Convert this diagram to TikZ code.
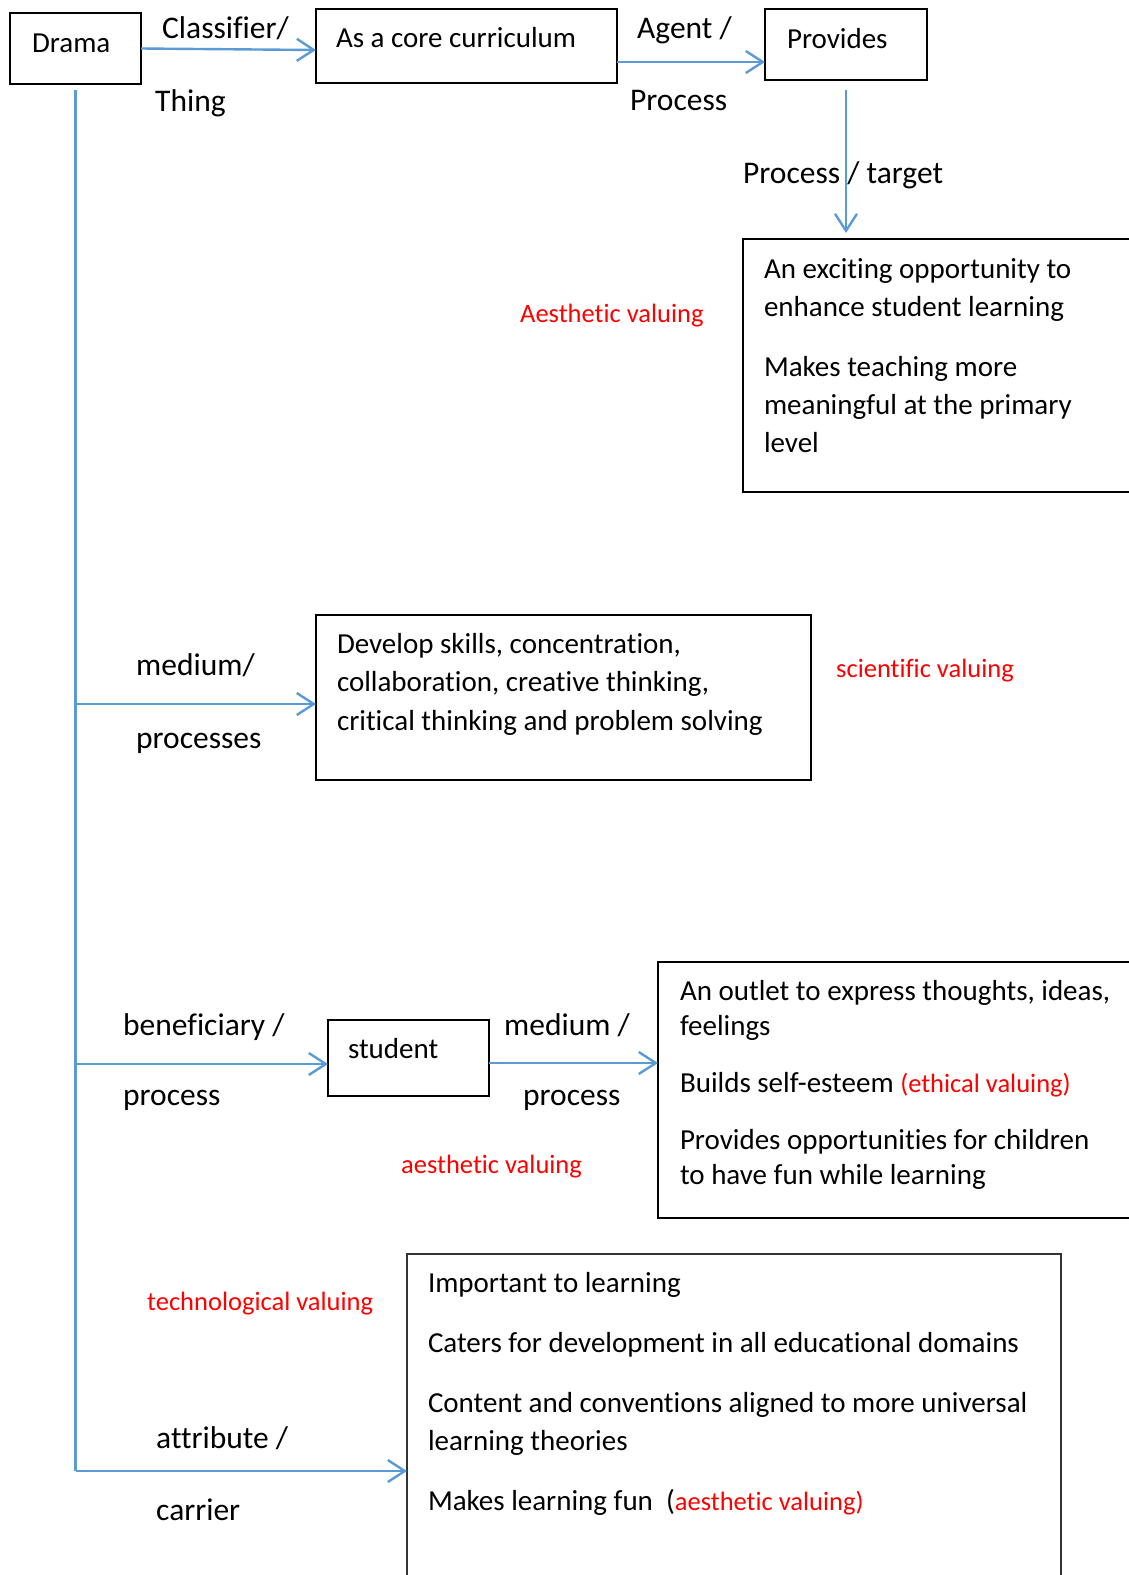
\documentclass[tikz,border=0pt]{standalone}
\usepackage{fontspec}
\setmainfont{Carlito}[Ligatures={NoCommon,NoContextual}, Contextuals=NoAlternate]
\usetikzlibrary{arrows.meta, positioning}
\definecolor{linkBlue}{HTML}{5B9BD5}
\definecolor{valRed}{HTML}{FF0000}
% width, height, first baseline, text
\newcommand{\boxtext}[4]{\parbox[t][#2pt][t]{#1pt}{\raggedright\setlength{\parskip}{22pt}\rule{0pt}{#3pt}#4}}

\begin{document}
\begin{tikzpicture}[
    x=1pt, y=-1pt,
    >={Straight Barb[length=17pt, width=22pt]},
    box/.style={draw, line width=2pt, anchor=north west, inner ysep=0pt, outer sep=0pt,
                font=\fontsize{29}{38.5}\selectfont},
    role/.style={anchor=base west, inner sep=0pt, font=\fontsize{31.5}{36}\selectfont},
    valuing/.style={anchor=base west, inner sep=0pt, text=valRed, font=\fontsize{26.5}{32}\selectfont},
    link/.style={draw=linkBlue, line width=2.4pt},
    flow/.style={link, ->}
]

    % --- Page ---
    \useasboundingbox (0,0) rectangle (1129,1575);
    \clip (0,0) rectangle (1129,1575);

    % --- 1. Boxes ---
    \node[box, inner xsep=22pt] (drama) at (10,13) {\boxtext{87}{71}{39}{Drama}};
    \node[box, inner xsep=20pt] (core) at (316,9) {\boxtext{261}{74}{38}{As a core curriculum}};
    \node[box, inner xsep=22pt] (provides) at (765,9) {\boxtext{118}{71}{39}{Provides}};
    \node[box, inner xsep=21pt, font=\fontsize{29}{38}\selectfont] (opp) at (743,239)
        {\boxtext{380}{253}{39}{An exciting opportunity to\\ enhance student learning\par
         Makes teaching more\\ meaningful at the primary\\ level}};
    \node[box, inner xsep=21pt] (skills) at (316,615)
        {\boxtext{453}{165}{38}{Develop skills, concentration,\\ collaboration, creative thinking,\\
         critical thinking and problem solving}};
    \node[box, inner xsep=20pt] (student) at (328,1020) {\boxtext{121}{76}{38}{student}};
    \node[box, inner xsep=22pt, font=\fontsize{29}{35}\selectfont] (outlet) at (658,962)
        {\boxtext{470}{256}{38}{An outlet to express thoughts, ideas,\\ feelings\par
         Builds self-esteem {\color{valRed}\fontsize{26.5}{35}\selectfont(ethical valuing)}\par
         Provides opportunities for children\\ to have fun while learning}};
    \node[box, inner xsep=21pt, line width=1.5pt, draw=black!80, font=\fontsize{29}{38}\selectfont] (learn) at (407,1254)
        {\boxtext{612}{346}{38}{Important to learning\par
         Caters for development in all educational domains\par
         Content and conventions aligned to more universal\\ learning theories\par
         Makes learning fun\ \ ({\color{valRed}\fontsize{26.5}{38}\selectfont aesthetic valuing)}}};

    % --- 2. Role labels ---
    \node[role] (classifier) at (162,38) {Classifier/};
    \node[role] (thing) at (155,111) {Thing};
    \node[role] (agent) at (637,38) {Agent /};
    \node[role] (process1) at (630,110) {Process};
    \node[role] (target) at (743,183) {Process / target};
    \node[role] (medium1) at (136,675) {medium/};
    \node[role] (processes) at (136,748) {processes};
    \node[role] (beneficiary) at (123,1035) {beneficiary /};
    \node[role] (process2) at (123,1105) {process};
    \node[role] (medium2) at (504,1035) {medium /};
    \node[role] (process3) at (523,1105) {process};
    \node[role] (attribute) at (156,1448) {attribute /};
    \node[role] (carrier) at (156,1520) {carrier};

    % --- 3. Valuing notes ---
    \node[valuing] (aesthetic1) at (520,322) {Aesthetic valuing};
    \node[valuing] (scientific) at (836,677) {scientific valuing};
    \node[valuing] (aesthetic2) at (401,1173) {aesthetic valuing};
    \node[valuing] (technological) at (147,1310) {technological valuing};

    % --- 4. Connectors ---
    \coordinate (medj) at (drama.south |- 0,704);
    \coordinate (benj) at (drama.south |- 0,1064);
    \coordinate (attj) at (drama.south |- 0,1471);

    \draw[flow] (drama.east) -- ([yshift=-4pt]core.west);
    \draw[flow] ([yshift=-16pt]core.east) -- ([yshift=-16pt]core.east -| provides.west);
    \draw[flow] ([yshift=-10pt]provides.south) -- ([yshift=6pt]provides.south |- opp.north);

    \draw[link] ([yshift=-6pt]drama.south) -- (attj); % trunk
    \draw[flow] (medj) -- (medj -| skills.west);
    \draw[flow] (benj) -- (benj -| student.west);
    \draw[flow] ([yshift=-5pt]student.east) -- ([yshift=-5pt]student.east -| outlet.west);
    \draw[flow] (attj) -- (attj -| learn.west);

\end{tikzpicture}
\end{document}
